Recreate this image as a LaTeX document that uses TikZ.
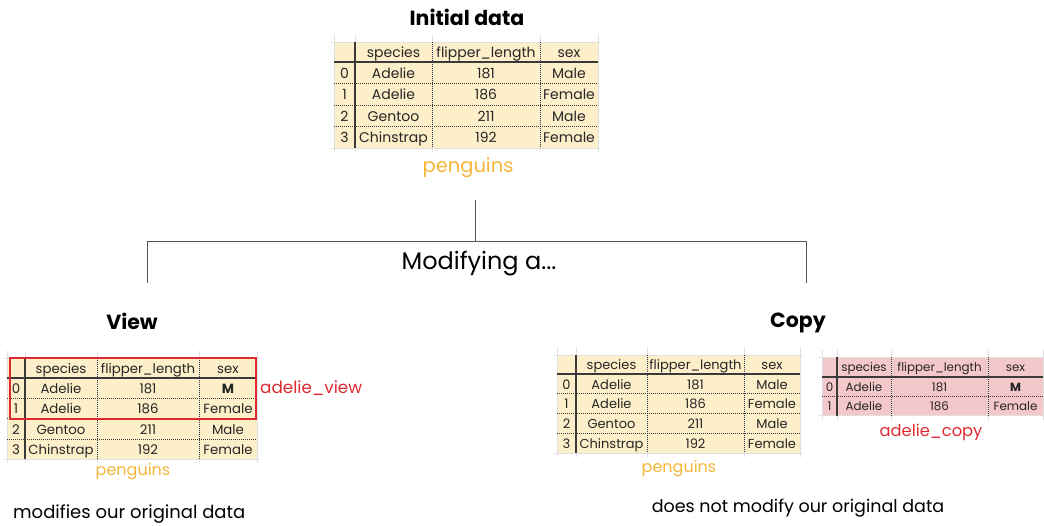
\documentclass[tikz,border=0pt]{standalone}
\usepackage{fontspec}
\setmainfont{Poppins}
\definecolor{beige}{HTML}{FDEFC9}
\definecolor{pinkbg}{HTML}{F4C7CA}
\definecolor{redc}{HTML}{DD2A30}
\definecolor{orangec}{HTML}{F5B73A}
\definecolor{linec}{HTML}{555555}
\definecolor{gridc}{HTML}{3A3A3A}
\newcommand\dftable[8]{%
 \def\tXa{#1}\def\tXb{#2}\def\tXc{#3}\def\tXd{#4}\def\tXe{#5}\def\tYt{#6}\def\tYh{#7}\def\tRh{#8}%
 \pgfmathsetmacro\tYb{#7+\tnrows*#8}%
 \fill[\tfill] (#1,#6) rectangle (#5,\tYb);
 \foreach \vx in {#1,#2,#3,#4,#5} \draw[faint] (\vx,#6-7) -- (\vx,\tYb+4);
 \draw[faint] (#1-3,#6) -- (#5+3,#6);
 \draw[faint] (#1-3,\tYb) -- (#5+3,\tYb);
 \draw[solidgrid] (#2,#6) -- (#2,\tYb);
 \draw[solidgrid] (#1,#7) -- (#5,#7);
 \draw[dotgrid] (#3,#6) -- (#3,\tYb);
 \draw[dotgrid] (#4,#6) -- (#4,\tYb);
 \pgfmathtruncatemacro\tlast{\tnrows-1}%
 \foreach \k in {1,...,\tlast} \draw[dotgrid] (#1,#7+\k*#8) -- (#5,#7+\k*#8);
}
\newcommand\thead[1]{%
 \pgfmathsetmacro\hy{(\tYt+\tYh)/2+0.38*\tfs}%
 \node[cell] (#1-hs) at ({(\tXb+\tXc)/2},\hy) {species};
 \node[cell] (#1-hf) at ({(\tXc+\tXd)/2},\hy) {flipper\_length};
 \node[cell] (#1-hx) at ({(\tXd+\tXe)/2},\hy) {sex};
}
\newcommand\trow[5]{%
 \pgfmathsetmacro\ry{\tYh+(#2+0.5)*\tRh+0.4*\tfs}%
 \node[cell] (#1-i#2) at ({(\tXa+\tXb)/2},\ry) {#2};
 \node[cell] (#1-s#2) at ({(\tXb+\tXc)/2},\ry) {#3};
 \node[cell] (#1-f#2) at ({(\tXc+\tXd)/2},\ry) {#4};
 \node[cell] (#1-x#2) at ({(\tXd+\tXe)/2},\ry) {#5};
}
\begin{document}
\begin{tikzpicture}[x=1pt,y=-1pt,
  faint/.style={draw=black!12,line width=0.6pt},
  solidgrid/.style={draw=gridc,line width=1.1pt},
  dotgrid/.style={draw=gridc,line width=0.8pt,dash pattern=on 1pt off 1pt},
  cell/.style={inner sep=0pt,anchor=base,text=black!85,font=\fontsize{\tfs}{\tfs}\selectfont},
  title/.style={inner sep=0pt,font=\fontsize{20.5}{20.5}\selectfont\bfseries},
  plain/.style={inner sep=0pt,font=\fontsize{18}{18}\selectfont},
  tname/.style={inner sep=0pt,text=orangec,font=\fontsize{16}{16}\selectfont},
  rname/.style={inner sep=0pt,text=redc,font=\fontsize{16.8}{16.8}\selectfont},
  tree/.style={draw=linec,line width=0.9pt}]
\useasboundingbox (0,0) rectangle (1044,525);

\node[title] (init) at (467,17) {Initial data};
% top table
\def\tfill{beige}\def\tnrows{4}\def\tfs{14}
\dftable{334}{355}{432}{540}{598}{42}{62}{21.5}
\thead{top}
\trow{top}{0}{Adelie}{181}{Male}
\trow{top}{1}{Adelie}{186}{Female}
\trow{top}{2}{Gentoo}{211}{Male}
\trow{top}{3}{Chinstrap}{192}{Female}
\node[tname,font=\fontsize{19.5}{19.5}\selectfont] (pg1) at (468,168) {penguins};

% tree
\coordinate (t0) at (475,200);
\coordinate (tj) at (475,241);
\coordinate (tl) at (147,241);
\coordinate (tr) at (806,241);
\coordinate (tlb) at (147,283);
\coordinate (trb) at (806,283);
\draw[tree] (t0) -- (tj);
\draw[tree] (tlb) -- (tl) -- (tr) -- (trb);
\node[plain,font=\fontsize{24}{24}\selectfont] (mod) at (479,264) {Modifying a...};

\node[title] (view) at (132,321) {View};
\node[title] (copy) at (798,323) {Copy};

% left table
\def\tfill{beige}\def\tnrows{4}\def\tfs{13.3}
\dftable{7}{25}{97}{199}{257}{358}{378}{20.3}
\thead{lt}
\trow{lt}{0}{Adelie}{181}{\textbf{M}}
\trow{lt}{1}{Adelie}{186}{Female}
\trow{lt}{2}{Gentoo}{211}{Male}
\trow{lt}{3}{Chinstrap}{192}{Female}
\draw[redc,line width=2pt] (10,358) rectangle (256,419);
\node[rname,anchor=west] (av) at (260,388) {adelie\_view};
\node[tname] (pg2) at (133,472) {penguins};
\node[plain,anchor=west] (mv) at (13,514) {modifies our original data};

% right table
\def\tfill{beige}\def\tnrows{4}\def\tfs{13}
\dftable{557}{576}{647}{744}{800}{355}{374}{19.7}
\thead{rt}
\trow{rt}{0}{Adelie}{181}{Male}
\trow{rt}{1}{Adelie}{186}{Female}
\trow{rt}{2}{Gentoo}{211}{Male}
\trow{rt}{3}{Chinstrap}{192}{Female}
\node[tname] (pg3) at (679,469) {penguins};

% pink table
\def\tfill{pinkbg}\def\tnrows{2}\def\tfs{11.9}
\dftable{822}{837}{891}{988}{1043}{357}{377}{19.3}
\thead{pk}
\trow{pk}{0}{Adelie}{181}{\textbf{M}}
\trow{pk}{1}{Adelie}{186}{Female}
\node[rname,font=\fontsize{16.3}{16.3}\selectfont] (ac) at (931,432) {adelie\_copy};
\node[plain,font=\fontsize{17.5}{17.5}\selectfont] (mc) at (798,508) {does not modify our original data};
\end{tikzpicture}
\end{document}
